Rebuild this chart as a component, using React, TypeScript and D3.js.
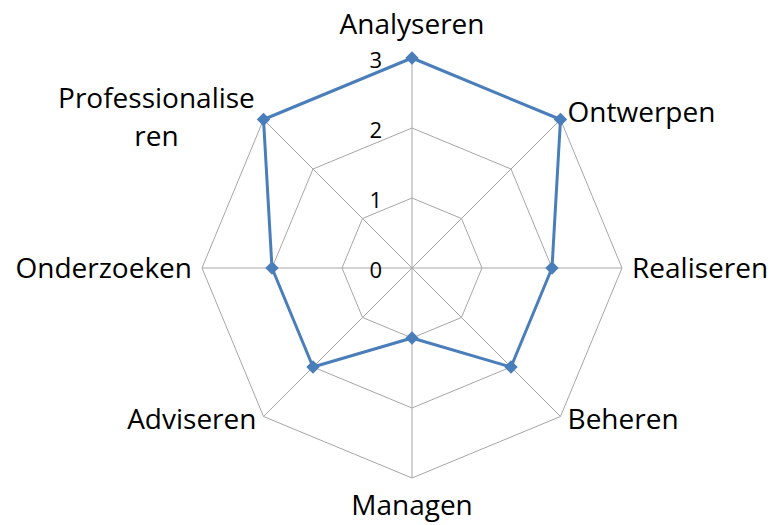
import { useRef, useEffect } from 'react';
import * as d3 from 'd3';

const categories = [
  'Analyseren',
  'Ontwerpen',
  'Realiseren',
  'Beheren',
  'Managen',
  'Adviseren',
  'Onderzoeken',
  'Professionaliseren',
];
const scores = [3, 3, 2, 2, 1, 2, 2, 3];
const ticks = [0, 1, 2, 3];

const width = 777;
const height = 525;
const cx = 412;
const cy = 268;
const radius = 210;
const font = 'Open Sans, Liberation Sans, sans-serif';

export default function App() {
  const svgRef = useRef<SVGSVGElement>(null);

  useEffect(() => {
    if (!svgRef.current) return;
    const svg = d3.select(svgRef.current);
    svg.selectAll('*').remove();

    const r = d3.scaleLinear().domain([0, 3]).range([0, radius]);
    const angle = d3
      .scalePoint<string>()
      .domain(categories)
      .range([0, (2 * Math.PI * (categories.length - 1)) / categories.length]);

    const g = svg.append('g').attr('transform', `translate(${cx},${cy})`);

    const pt = (cat: string, v: number): [number, number] => {
      const a = angle(cat)!;
      return [Math.sin(a) * r(v), -Math.cos(a) * r(v)];
    };

    // grid rings
    ticks.slice(1).forEach((t) => {
      g.append('path')
        .attr('d', d3.line()(categories.map((c) => pt(c, t))) + 'Z')
        .attr('fill', 'none')
        .attr('stroke', '#a6a6a6')
        .attr('stroke-width', 1);
    });

    // spokes
    categories.forEach((c) => {
      const [x, y] = pt(c, 3);
      g.append('line')
        .attr('x1', 0).attr('y1', 0)
        .attr('x2', x).attr('y2', y)
        .attr('stroke', '#a6a6a6')
        .attr('stroke-width', 1);
    });

    // tick labels
    ticks.forEach((t) => {
      g.append('text')
        .attr('x', -30)
        .attr('y', -r(t) + 1)
        .attr('text-anchor', 'end')
        .attr('dominant-baseline', 'central')
        .attr('font-family', font)
        .attr('font-size', 22)
        .attr('fill', '#000')
        .text(t);
    });

    // series
    const pts = categories.map((c, i) => pt(c, scores[i]));
    g.append('path')
      .attr('d', d3.line()(pts) + 'Z')
      .attr('fill', 'none')
      .attr('stroke', '#4a7ebb')
      .attr('stroke-width', 3)
      .attr('stroke-linejoin', 'round');

    g.selectAll('path.marker')
      .data(pts)
      .join('path')
      .attr('class', 'marker')
      .attr('transform', (d) => `translate(${d[0]},${d[1]}) rotate(45)`)
      .attr('d', d3.symbol(d3.symbolSquare, 90)() as string)
      .attr('fill', '#4a7ebb');

    // category labels
    categories.forEach((c) => {
      const a = angle(c)!;
      const s = Math.sin(a);
      const co = -Math.cos(a);
      let x = s * (radius + 10);
      let y = co * (radius + 10);
      let anchor = s > 0.01 ? 'start' : s < -0.01 ? 'end' : 'middle';
      if (Math.abs(s) < 0.01) y += co > 0 ? 17 : -24;
      else if (co > 0.01) y -= 4;
      const lines = c.length > 15 ? [c.slice(0, 15), c.slice(15)] : [c];
      if (lines.length > 1) {
        x -= 100;
        anchor = 'middle';
        y -= 14;
      }
      const txt = g
        .append('text')
        .attr('text-anchor', anchor)
        .attr('font-family', font)
        .attr('font-size', 28)
        .attr('fill', '#000');
      lines.forEach((l, i) => {
        txt.append('tspan')
          .attr('x', x)
          .attr('y', y + i * 38)
          .attr('dy', '0.35em')
          .text(l);
      });
    });
  }, []);

  return (
    <div style={{ position: 'absolute', left: 0, top: 0, background: '#fff' }}>
      <svg ref={svgRef} width={width} height={height} style={{ display: 'block' }} />
    </div>
  );
}
